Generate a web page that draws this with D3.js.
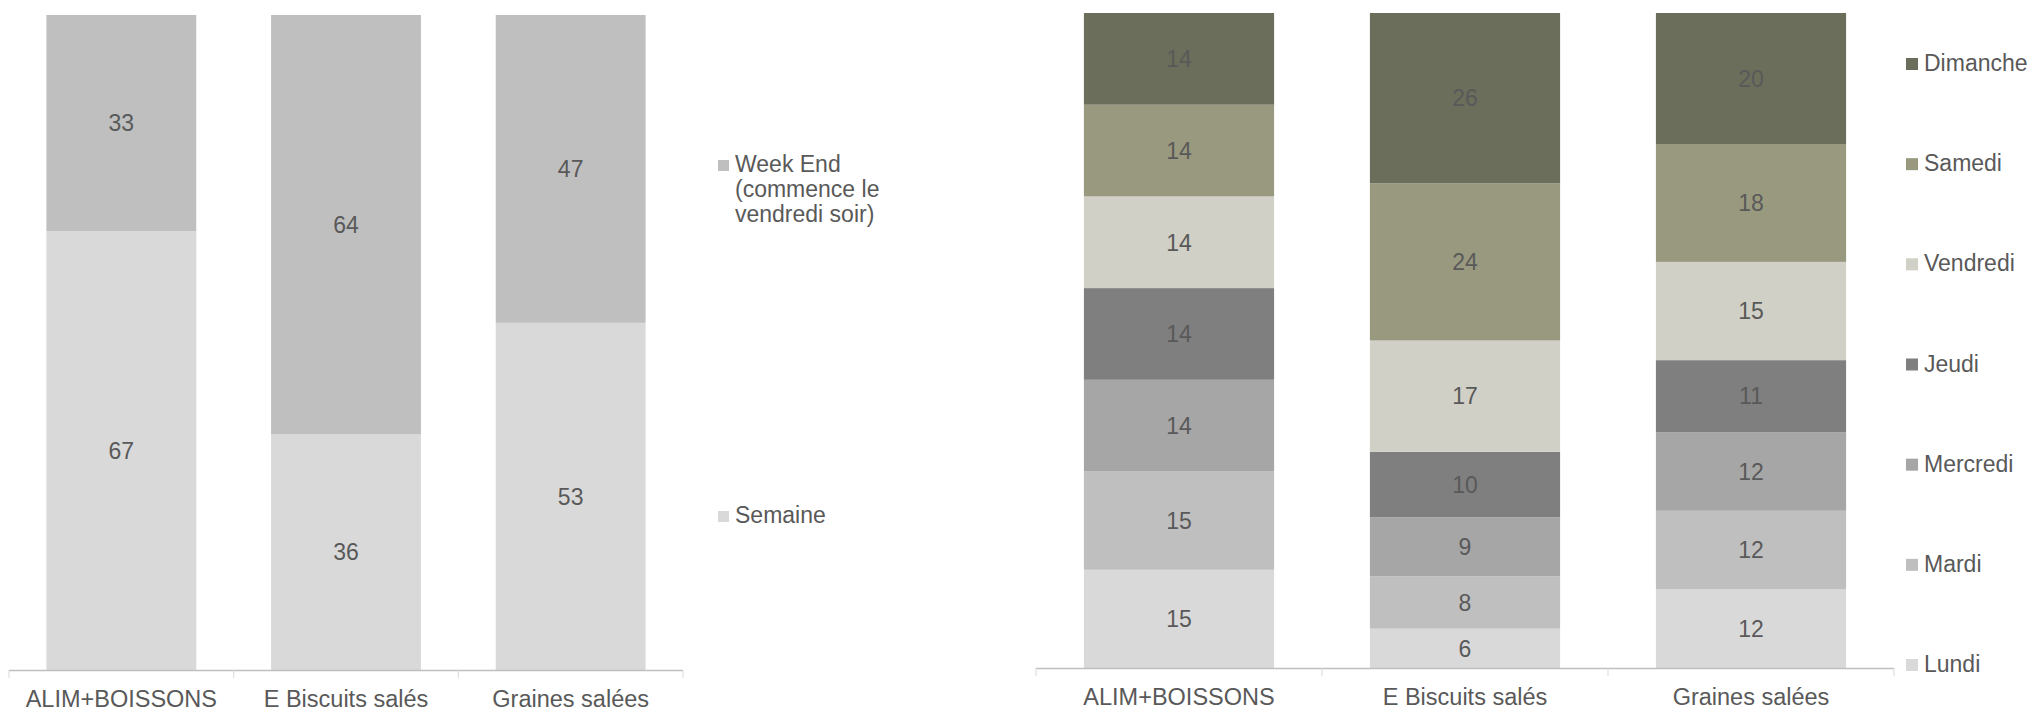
<!DOCTYPE html>
<html>
<head>
<meta charset="utf-8">
<script src="https://cdn.jsdelivr.net/npm/d3@7"></script>
<style>
  html, body { margin: 0; padding: 0; background: #fff; }
  svg { display: block; font-family: "Liberation Sans", Arial, sans-serif; }
</style>
</head>
<body>
<svg id="chart" width="2030" height="712"></svg>
<script>
// ---- Data ----
const categories = ["ALIM+BOISSONS", "E Biscuits salés", "Graines salées"];

// Left chart: Semaine / Week End
const leftSeries = ["Semaine", "Week End"];
const semaine = [67, 36, 53];
const weekEnd = [33, 64, 47];
const leftLegendLabels = ["Week End", "(commence le", "vendredi soir)"];

// Right chart: days of the week (bottom to top)
const daySeries = ["Lundi", "Mardi", "Mercredi", "Jeudi", "Vendredi", "Samedi", "Dimanche"];
const lundi    = [15, 6, 12];
const mardi    = [15, 8, 12];
const mercredi = [14, 9, 12];
const jeudi    = [14, 10, 11];
const vendredi = [14, 17, 15];
const samedi   = [14, 24, 18];
const dimanche = [14, 26, 20];

// ---- Styles ----
const textColor = "#595959";
const axisColor = "#bfbfbf";
const leftColors = {"Semaine": "#d9d9d9", "Week End": "#bfbfbf"};
const dayColors = {
  "Lundi": "#d9d9d9", "Mardi": "#bfbfbf", "Mercredi": "#a6a6a6", "Jeudi": "#7f7f7f",
  "Vendredi": "#d0d0c6", "Samedi": "#99997f", "Dimanche": "#6b6e5a"
};

const svg = d3.select("#chart");

function drawStacked(opts) {
  const {rows, keys, colors, x0, x1, yTop, yBottom, padInner, labelBaseline} = opts;
  const g = svg.append("g");
  const x = d3.scaleBand().domain(categories).range([x0, x1]).paddingInner(padInner).paddingOuter(padInner / 2);
  const y = d3.scaleLinear().domain([0, 100]).range([yBottom, yTop]);
  const stack = d3.stack().keys(keys)(rows);

  const layers = g.selectAll("g.layer").data(stack).join("g")
    .attr("class", "layer")
    .attr("fill", d => colors[d.key]);
  layers.selectAll("rect").data(d => d).join("rect")
    .attr("x", d => x(d.data.cat))
    .attr("width", x.bandwidth())
    .attr("y", d => y(d[1]))
    .attr("height", d => y(d[0]) - y(d[1]));

  // Value labels
  stack.forEach(layer => {
    g.selectAll(null).data(layer).join("text")
      .attr("x", d => x(d.data.cat) + x.bandwidth() / 2)
      .attr("y", d => (y(d[0]) + y(d[1])) / 2)
      .attr("dy", "0.36em")
      .attr("text-anchor", "middle")
      .attr("font-size", 23)
      .attr("fill", textColor)
      .text(d => d[1] - d[0]);
  });

  // Axis line and ticks at band boundaries
  g.append("line")
    .attr("x1", x0).attr("x2", x1)
    .attr("y1", yBottom + 0.5).attr("y2", yBottom + 0.5)
    .attr("stroke", axisColor).attr("stroke-width", 1.5);
  const boundaries = categories.map(c => x(c) - x.step() * padInner / 2).concat([x1]);
  g.selectAll(null).data(boundaries).join("line")
    .attr("x1", d => d).attr("x2", d => d)
    .attr("y1", yBottom).attr("y2", yBottom + 8)
    .attr("stroke", "#d9d9d9").attr("stroke-width", 1);

  // Category labels
  g.selectAll(null).data(categories).join("text")
    .attr("x", d => x(d) + x.bandwidth() / 2)
    .attr("y", labelBaseline)
    .attr("text-anchor", "middle")
    .attr("font-size", 23.5)
    .attr("fill", textColor)
    .text(d => d);
}

// Left chart
const leftRows = categories.map((c, i) => ({cat: c, "Semaine": semaine[i], "Week End": weekEnd[i]}));
drawStacked({rows: leftRows, keys: leftSeries, colors: leftColors,
  x0: 9, x1: 683, yTop: 15, yBottom: 670, padInner: 0.333, labelBaseline: 707});

// Left legend
const ll = svg.append("g");
ll.append("rect").attr("x", 718).attr("y", 160).attr("width", 11).attr("height", 11).attr("fill", leftColors["Week End"]);
ll.append("text").attr("x", 735).attr("y", 172).attr("font-size", 23).attr("fill", textColor)
  .selectAll("tspan").data(leftLegendLabels).join("tspan")
  .attr("x", 735).attr("dy", (d, i) => i === 0 ? 0 : 25).text(d => d);
ll.append("rect").attr("x", 718).attr("y", 511).attr("width", 11).attr("height", 11).attr("fill", leftColors["Semaine"]);
ll.append("text").attr("x", 735).attr("y", 523).attr("font-size", 23).attr("fill", textColor).text("Semaine");

// Right chart
const dayArrays = [lundi, mardi, mercredi, jeudi, vendredi, samedi, dimanche];
const rightRows = categories.map((c, i) => {
  const r = {cat: c};
  daySeries.forEach((k, j) => r[k] = dayArrays[j][i]);
  return r;
});
drawStacked({rows: rightRows, keys: daySeries, colors: dayColors,
  x0: 1036, x1: 1894, yTop: 13, yBottom: 668, padInner: 0.335, labelBaseline: 705});

// Right legend (top: Dimanche ... bottom: Lundi)
const legendOrder = daySeries.slice().reverse();
const ly = d3.scalePoint().domain(legendOrder).range([71, 672]);
const rl = svg.append("g");
rl.selectAll("rect").data(legendOrder).join("rect")
  .attr("x", 1906).attr("y", d => ly(d) - 13)
  .attr("width", 12).attr("height", 12)
  .attr("fill", d => dayColors[d]);
rl.selectAll("text").data(legendOrder).join("text")
  .attr("x", 1924).attr("y", d => ly(d))
  .attr("font-size", 23).attr("fill", textColor)
  .text(d => d);
</script>
</body>
</html>
